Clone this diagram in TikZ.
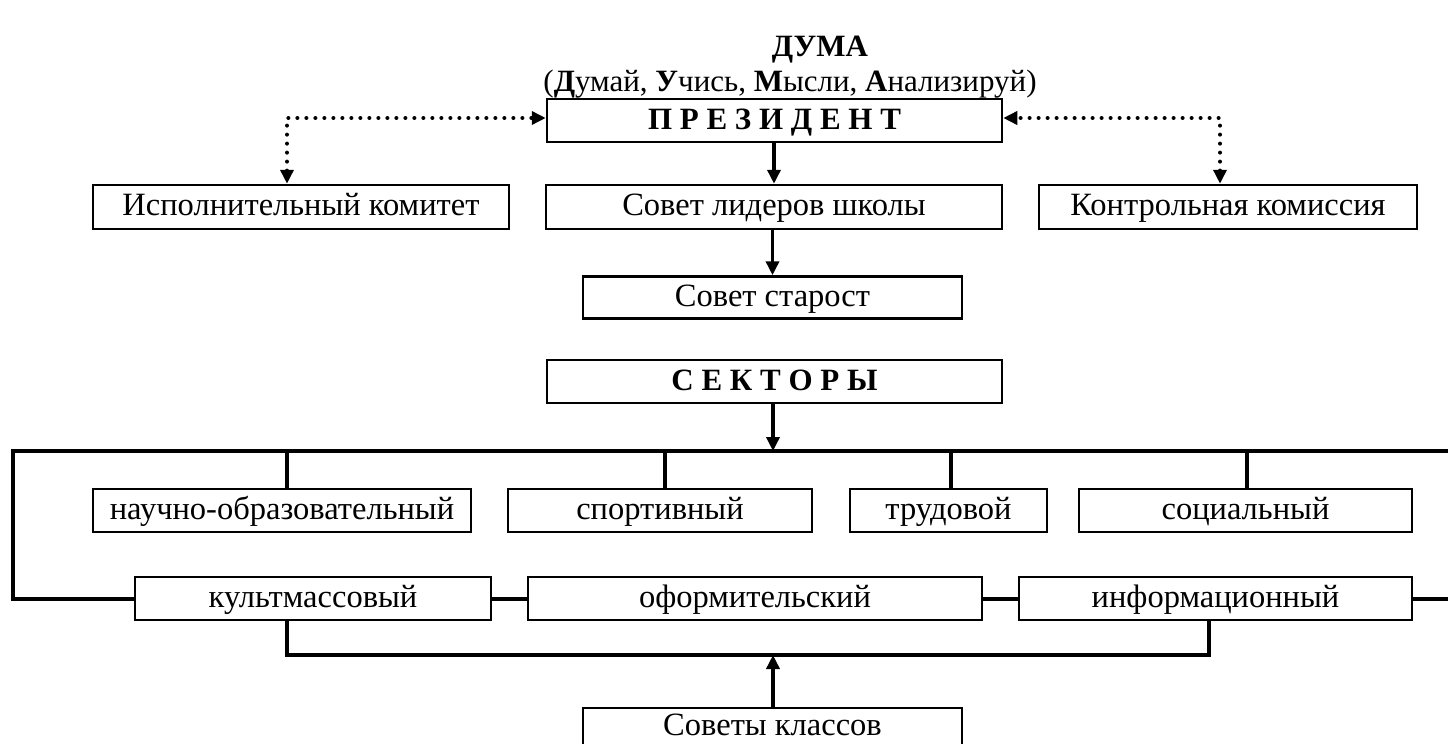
\documentclass[tikz,border=0pt]{standalone}
\usepackage{fontspec}
\setmainfont{Liberation Serif}
\usetikzlibrary{arrows.meta}
\tikzset{
  box/.style={draw, line width=2.5pt, inner sep=0pt, text height=20pt, text depth=3pt, font=\fontsize{32.5}{34}\selectfont},
  bbox/.style={box, font=\fontsize{31}{34}\selectfont\bfseries},
  bus/.style={line width=4pt},
  solidarr/.style={line width=3.5pt, -{Triangle[length=14pt,width=13pt]}},
  dotarrs/.style={line width=4pt, line cap=round, dash pattern=on 0pt off 9pt, {Triangle[length=14pt,width=13pt]}-{Triangle[length=14pt,width=13pt]}}
}
\begin{document}
\begin{tikzpicture}[x=1pt,y=-1pt]
\useasboundingbox (0,0) rectangle (1448,744);
% titles
\node[font=\fontsize{31}{34}\selectfont\bfseries] (duma) at (820,50) {ДУМА};
\node[font=\fontsize{31}{34}\selectfont] (sub) at (790,84) {(\textbf{Д}умай, \textbf{У}чись, \textbf{М}ысли, \textbf{А}нализируй)};
% top boxes
\node[bbox, minimum width=455pt, minimum height=43pt] (pres) at (774.5,120.5) {П Р Е З И Д Е Н Т};
\node[box, minimum width=416pt, minimum height=44pt] (isp) at (301,207) {Исполнительный комитет};
\node[box, minimum width=456pt, minimum height=44pt] (sov) at (774,207) {Совет лидеров школы};
\node[box, minimum width=378pt, minimum height=44pt] (kon) at (1228,207) {Контрольная комиссия};
\node[box, minimum width=379pt, minimum height=42pt] (star) at (772.5,297.5) {Совет старост};
\node[bbox, minimum width=455pt, minimum height=43pt] (sek) at (774.5,381.5) {С Е К Т О Р Ы};
% row 2
\node[box, minimum width=378pt, minimum height=43pt] (nauch) at (282,510.5) {научно-образовательный};
\node[box, minimum width=304pt, minimum height=43pt] (sport) at (660,510.5) {спортивный};
\node[box, minimum width=197pt, minimum height=43pt] (trud) at (948.5,510.5) {трудовой};
\node[box, minimum width=333pt, minimum height=43pt] (soc) at (1245.5,510.5) {социальный};
% row 3
\node[box, minimum width=356pt, minimum height=43pt] (kult) at (313,598.5) {культмассовый};
\node[box, minimum width=454pt, minimum height=43pt] (ofor) at (755,598.5) {оформительский};
\node[box, minimum width=393pt, minimum height=43pt] (info) at (1215.5,598.5) {информационный};
% bottom
\node[box, minimum width=379pt, minimum height=37pt] (klass) at (772.5,726.5) {Советы классов};
% coordinates
\coordinate (pl) at (287,118);
\coordinate (pr) at (1220,118);
\coordinate (bustop) at (773,451);
\coordinate (busL) at (13,451);
\coordinate (busR) at (1450,451);
\coordinate (lowL) at (13,598.5);
\coordinate (lowR) at (1450,598.5);
\coordinate (botbus) at (773,655);
% dotted connectors
\draw[dotarrs] (isp.north -| pl) -- (pl) -- (pl -| pres.west);
\draw[dotarrs] (kon.north -| pr) -- (pr) -- (pr -| pres.east);
% solid arrows
\draw[solidarr] (pres.south -| sov.north) -- (sov.north);
\draw[solidarr] (sov.south -| star.north) -- (star.north);
\draw[solidarr] (sek.south -| bustop) -- (bustop);
\draw[solidarr] (klass.north -| botbus) -- (botbus);
% buses
\draw[bus] (busR) -- (busL) -- (lowL) -- (kult.west);
\draw[bus] (busR) -- (lowR);
\draw[bus] (kult.east) -- (ofor.west);
\draw[bus] (ofor.east) -- (info.west);
\draw[bus] (info.east) -- (lowR);
\draw[bus] (287,451) -- (nauch.north -| 287,451);
\draw[bus] (665,451) -- (sport.north -| 665,451);
\draw[bus] (951,451) -- (trud.north -| 951,451);
\draw[bus] (1247,451) -- (soc.north -| 1247,451);
\draw[bus] (kult.south -| 287,0) -- (287,655) -- (1209,655) -- (info.south -| 1209,0);
\end{tikzpicture}
\end{document}
